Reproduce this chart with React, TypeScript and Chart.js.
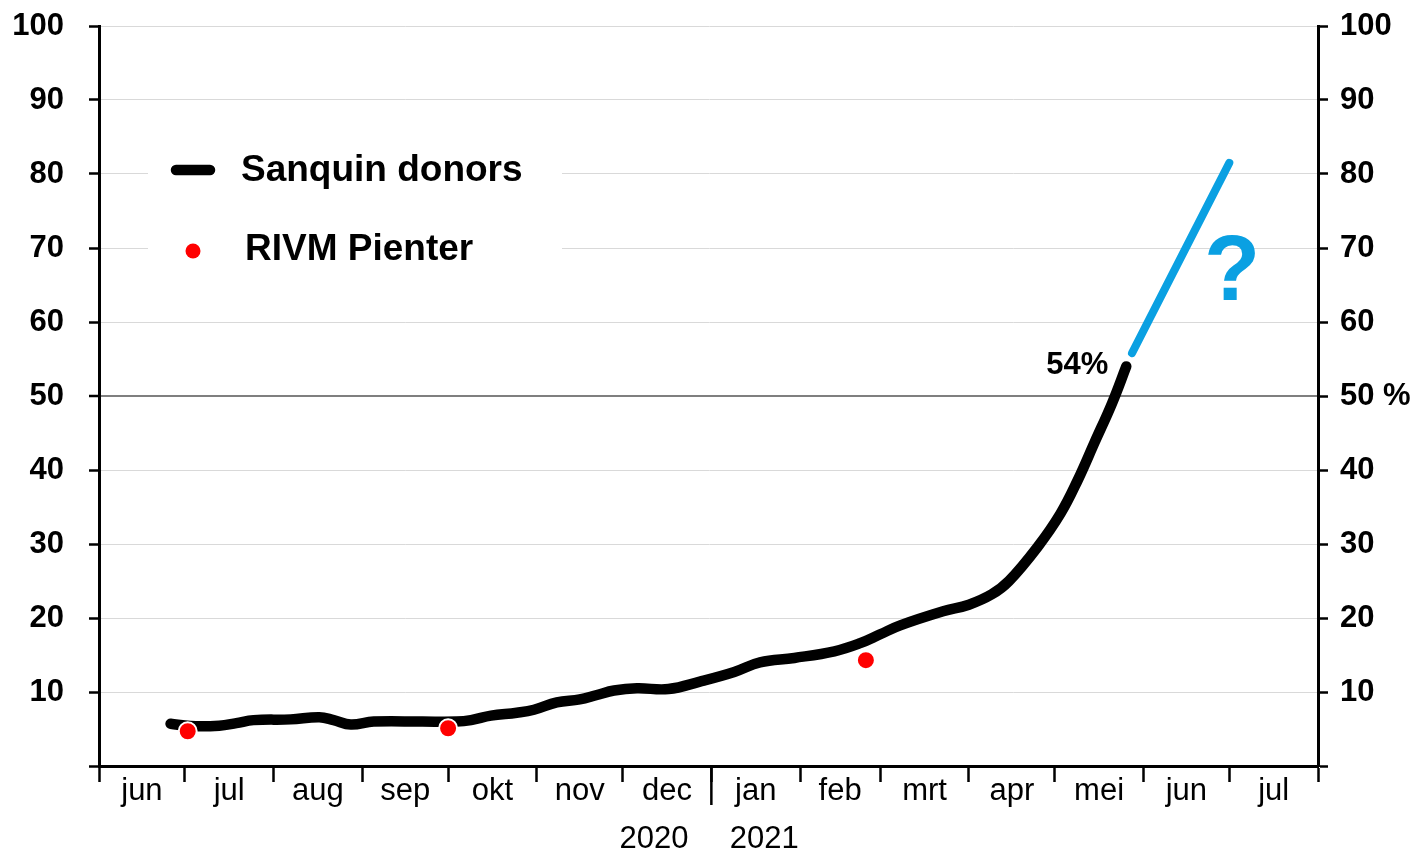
import { useEffect, useRef } from 'react';
import { Chart, registerables } from 'chart.js';

Chart.register(...registerables);

// Day index counted from 1 June 2020
const monthStarts = [0, 30, 61, 92, 122, 153, 183, 214, 245, 273, 304, 334, 365, 395, 426];
const monthLabels = ['jun', 'jul', 'aug', 'sep', 'okt', 'nov', 'dec', 'jan', 'feb', 'mrt', 'apr', 'mei', 'jun', 'jul'];
const yearLabels = ['', '', '', '', '', '', '2020   ', '  2021', '', '', '', '', '', ''];
const yearBoundaryDay = 214;

const sanquinDays = [25, 32, 42, 48, 54, 67, 77, 82, 88, 96, 113, 125, 130, 137, 146, 152, 160, 168, 174, 180, 188, 199, 210, 222, 231, 243, 257, 266, 273, 280, 295, 304, 312, 318, 328, 336, 342, 348, 354, 359];
const sanquinValues = [5.7, 5.4, 5.45, 5.8, 6.2, 6.3, 6.6, 6.2, 5.6, 6.0, 6.0, 6.0, 6.2, 6.8, 7.2, 7.6, 8.6, 9.0, 9.6, 10.2, 10.5, 10.4, 11.4, 12.7, 14.0, 14.6, 15.5, 16.6, 17.8, 19.0, 20.9, 21.8, 23.2, 25.0, 29.6, 34.1, 38.6, 43.8, 49.0, 54.0];

const pienterDays = [31, 122, 268];
const pienterValues = [4.7, 5.1, 14.3];

const projectionDays = [361, 395];
const projectionValues = [55.8, 81.5];

const yTickValues = [0, 10, 20, 30, 40, 50, 60, 70, 80, 90, 100];
const lastLabel = '54%';
const questionDay = 396;
const questionValue = 66.4;

const FONT = '"Liberation Sans", Arial, sans-serif';

const monthMids = monthLabels.map((_, i) => (monthStarts[i] + monthStarts[i + 1]) / 2);

function xLabel(value: number): string | string[] {
  const i = monthMids.indexOf(value);
  if (i < 0) return '';
  return yearLabels[i] ? [monthLabels[i], yearLabels[i]] : monthLabels[i];
}

const overlayPlugin = {
  id: 'overlay',
  beforeDatasetsDraw(chart: any) {
    const ctx = chart.ctx;
    ctx.save();
    ctx.fillStyle = '#ffffff';
    ctx.fillRect(148, 128, 414, 160);
    ctx.restore();
  },
  afterDatasetsDraw(chart: any) {
    const ctx = chart.ctx;
    const xs = chart.scales.x;
    const ys = chart.scales.y;
    const ds = chart.data.datasets;
    ctx.save();
    // legend
    ctx.lineCap = 'round';
    ctx.strokeStyle = '#000';
    ctx.lineWidth = 10.5;
    ctx.beginPath();
    ctx.moveTo(176, 170);
    ctx.lineTo(210, 170);
    ctx.stroke();
    ctx.fillStyle = '#000';
    ctx.font = `bold 37px ${FONT}`;
    ctx.textAlign = 'left';
    ctx.textBaseline = 'middle';
    ctx.fillText(ds[1].label, 241, 171);
    ctx.beginPath();
    ctx.fillStyle = '#ff0000';
    ctx.arc(193, 251, 7.5, 0, Math.PI * 2);
    ctx.fill();
    ctx.fillStyle = '#000';
    ctx.fillText(ds[0].label, 245, 250);

    // 54% label
    const lx = xs.getPixelForValue(sanquinDays[sanquinDays.length - 1]);
    const ly = ys.getPixelForValue(sanquinValues[sanquinValues.length - 1]);
    ctx.font = `bold 31px ${FONT}`;
    ctx.textAlign = 'right';
    ctx.fillText(lastLabel, lx - 18, ly - 1);

    // question mark
    ctx.font = `bold 92px ${FONT}`;
    ctx.textAlign = 'center';
    ctx.fillStyle = '#0aa0e2';
    ctx.fillText('?', xs.getPixelForValue(questionDay), ys.getPixelForValue(questionValue));
    ctx.restore();
  },
  afterDraw(chart: any) {
    const ctx = chart.ctx;
    const xs = chart.scales.x;
    const px = xs.getPixelForValue(yearBoundaryDay);
    ctx.save();
    ctx.strokeStyle = '#000';
    ctx.lineWidth = 2.5;
    ctx.beginPath();
    ctx.moveTo(px, chart.chartArea.bottom);
    ctx.lineTo(px, chart.chartArea.bottom + 39);
    ctx.stroke();
    ctx.restore();
  },
};

export default function App() {
  const ref = useRef<HTMLCanvasElement>(null);
  useEffect(() => {
    if (!ref.current) return;
    Chart.defaults.font.family = FONT;
    const chart = new Chart(ref.current, {
      type: 'line',
      data: {
        datasets: [
          {
            label: 'RIVM Pienter',
            data: pienterDays.map((d, i) => ({ x: d, y: pienterValues[i] })),
            showLine: false,
            pointRadius: 9,
            pointBackgroundColor: '#ff0000',
            pointBorderColor: '#ffffff',
            pointBorderWidth: 2,
            order: 0,
          },
          {
            label: 'Sanquin donors',
            data: sanquinDays.map((d, i) => ({ x: d, y: sanquinValues[i] })),
            borderColor: '#000000',
            borderWidth: 10.5,
            borderCapStyle: 'round',
            borderJoinStyle: 'round',
            tension: 0.4,
            pointRadius: 0,
            order: 2,
          },
          {
            label: 'projectie',
            data: projectionDays.map((d, i) => ({ x: d, y: projectionValues[i] })),
            borderColor: '#0aa0e2',
            borderWidth: 8,
            borderCapStyle: 'round',
            pointRadius: 0,
            order: 1,
          },
        ],
      },
      options: {
        animation: false,
        responsive: false,
        layout: { padding: { top: 26, left: 0, right: 0, bottom: 0 } },
        plugins: { legend: { display: false }, tooltip: { enabled: false } },
        scales: {
          x: {
            type: 'linear',
            min: 0,
            max: 426,
            afterBuildTicks: (s: any) => {
              const vals = [...monthStarts, ...monthMids].sort((a, b) => a - b);
              s.ticks = vals.map((v) => ({ value: v }));
            },
            afterFit: (s: any) => {
              s.height = 84;
              s.paddingLeft = 0;
              s.paddingRight = 0;
            },
            ticks: {
              autoSkip: false,
              maxRotation: 0,
              minRotation: 0,
              padding: -15,
              color: '#000',
              font: { size: 31, lineHeight: 1.55 },
              callback: (v: any) => xLabel(Number(v)),
            },
            grid: {
              drawOnChartArea: false,
              tickLength: 16,
              tickWidth: 2.5,
              tickColor: (c: any) => (monthStarts.includes(c.tick?.value) ? '#000' : 'rgba(0,0,0,0)'),
            },
            border: { display: true, color: '#000', width: 3 },
          },
          y: {
            position: 'left',
            min: 0,
            max: 100,
            afterBuildTicks: (s: any) => {
              s.ticks = yTickValues.map((v) => ({ value: v }));
            },
            afterFit: (s: any) => {
              s.width = 99;
              s.paddingTop = 0;
              s.paddingBottom = 0;
            },
            ticks: {
              padding: 25,
              color: '#000',
              font: { size: 31, weight: 'bold' },
              callback: (v: any) => (v === 0 ? '' : String(v)),
            },
            grid: {
              color: (c: any) => (c.tick?.value === 50 ? '#7f7f7f' : '#d9d9d9'),
              lineWidth: (c: any) => (c.tick?.value === 50 ? 2 : 1),
              tickColor: '#000',
              tickLength: 10,
              tickWidth: 2.5,
            },
            border: { display: true, color: '#000', width: 3 },
          },
          y2: {
            position: 'right',
            min: 0,
            max: 100,
            afterBuildTicks: (s: any) => {
              s.ticks = yTickValues.map((v) => ({ value: v }));
            },
            afterFit: (s: any) => {
              s.width = 101;
              s.paddingTop = 0;
              s.paddingBottom = 0;
            },
            ticks: {
              padding: 12,
              color: '#000',
              font: { size: 31, weight: 'bold' },
              callback: (v: any) => (v === 0 ? '' : v === 50 ? '50 %' : String(v)),
            },
            grid: {
              drawOnChartArea: false,
              tickColor: '#000',
              tickLength: 10,
              tickWidth: 2.5,
            },
            border: { display: true, color: '#000', width: 3 },
          },
        },
      },
      plugins: [overlayPlugin],
    } as any);
    return () => chart.destroy();
  }, []);
  return (
    <div style={{ position: 'fixed', left: 0, top: 0, width: 1419, height: 850, background: '#fff' }}>
      <canvas ref={ref} width={1419} height={850} />
    </div>
  );
}
